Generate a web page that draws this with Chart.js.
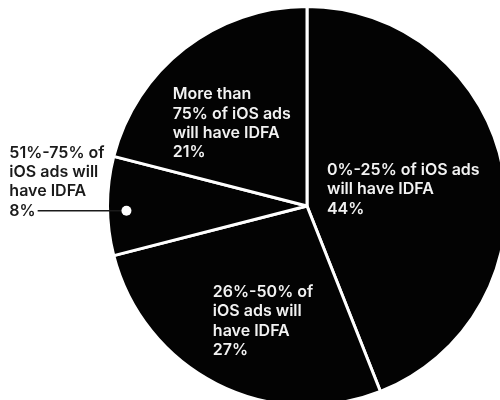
<!DOCTYPE html>
<html>
<head>
<meta charset="utf-8">
<script src="https://cdn.jsdelivr.net/npm/chart.js@4"></script>
<style>
  html, body { margin: 0; padding: 0; background: #fff; overflow: hidden; }
  #wrap { width: 520px; height: 420px; }
</style>
</head>
<body>
<div id="wrap"><canvas id="pie" width="520" height="420"></canvas></div>
<script>
// slices clockwise from 12 o'clock
const categories = [
    ['0%-25% of iOS ads', 'will have IDFA'],
    ['26%-50% of', 'iOS ads will', 'have IDFA'],
    ['51%-75% of', 'iOS ads will', 'have IDFA'],
    ['More than', '75% of iOS ads', 'will have IDFA']
];
const shares = [44, 27, 8, 21];

// label anchors, in units of the radius from the pie centre
const labelSpots = [
    { dx: 0.10, dy: -0.18, color: '#f2f2f2' },
    { dx: -0.472, dy: 0.432, color: '#f2f2f2' },
    { dx: -1.492, dy: -0.266, color: '#1a1a1a', leader: { dx: -0.905, dy: 0.03 } },
    { dx: -0.673, dy: -0.558, color: '#f2f2f2' }
];

const sliceLabels = {
    id: 'sliceLabels',
    afterDatasetsDraw(chart) {
        const ctx = chart.ctx;
        const arcs = chart.getDatasetMeta(0).data;
        const lineH = 19.3;
        ctx.save();
        ctx.font = '600 16px Inter, "Noto Sans", sans-serif';
        ctx.textAlign = 'left';
        ctx.textBaseline = 'middle';
        arcs.forEach((arc, i) => {
            const spot = labelSpots[i];
            const r = arc.outerRadius;
            const x = arc.x + spot.dx * r;
            const y = arc.y + spot.dy * r;
            const lines = categories[i].concat([shares[i] + '%']);
            ctx.fillStyle = spot.color;
            lines.forEach((t, j) => ctx.fillText(t, x, y + j * lineH));

            if (spot.leader) {
                const lastY = y + (lines.length - 1) * lineH;
                const endX = x + ctx.measureText(lines[lines.length - 1]).width + 2;
                const dotX = arc.x + spot.leader.dx * r;
                ctx.strokeStyle = '#1a1a1a';
                ctx.lineWidth = 1.5;
                ctx.beginPath();
                ctx.moveTo(endX, lastY);
                ctx.lineTo(dotX, lastY);
                ctx.stroke();
                ctx.fillStyle = '#fff';
                ctx.beginPath();
                ctx.arc(dotX, lastY, 5, 0, Math.PI * 2);
                ctx.fill();
            }
        });
        ctx.restore();
    }
};

new Chart(document.getElementById('pie').getContext('2d'), {
    type: 'pie',
    data: {
        labels: categories.map(c => c.join(' ')),
        datasets: [{
            data: shares,
            backgroundColor: '#030303',
            borderColor: '#ffffff',
            borderWidth: 3
        }]
    },
    options: {
        responsive: false,
        animation: false,
        layout: { padding: { left: 106, top: 5, right: 12, bottom: 13 } },
        plugins: {
            legend: { display: false },
            tooltip: { enabled: false }
        }
    },
    plugins: [sliceLabels]
});
</script>
</body>
</html>
